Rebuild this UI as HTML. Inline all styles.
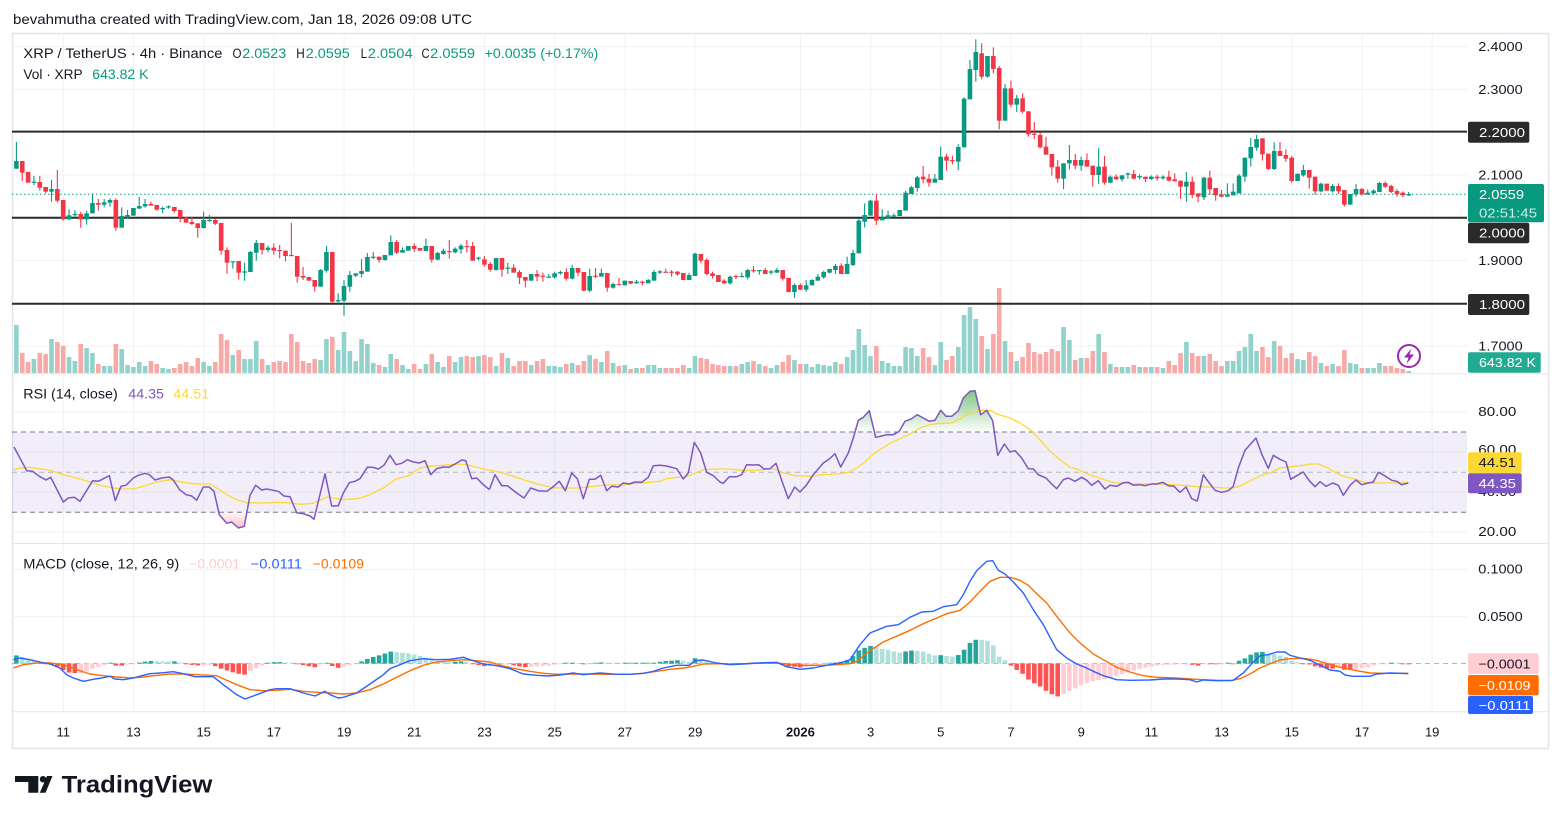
<!DOCTYPE html>
<html><head><meta charset="utf-8">
<style>
html,body{margin:0;padding:0;background:#fff;width:1562px;height:824px;overflow:hidden;}
svg{display:block;}
text{font-family:"Liberation Sans",Arial,sans-serif;}
</style></head>
<body>
<svg id="s" width="1562" height="824" viewBox="0 0 1562 824" xmlns="http://www.w3.org/2000/svg">
<defs>
 <clipPath id="cp"><rect x="12" y="34" width="1455" height="339"/></clipPath>
 <clipPath id="cr"><rect x="12" y="375" width="1455" height="168"/></clipPath>
 <clipPath id="cm"><rect x="12" y="544" width="1455" height="167"/></clipPath>
 <clipPath id="cob"><rect x="12" y="375" width="1455" height="57"/></clipPath>
 <clipPath id="cos"><rect x="12" y="512.3" width="1455" height="31"/></clipPath>
 <linearGradient id="gob" x1="0" y1="388" x2="0" y2="432" gradientUnits="userSpaceOnUse"><stop offset="0" stop-color="#4caf50" stop-opacity="0.75"/><stop offset="1" stop-color="#4caf50" stop-opacity="0.02"/></linearGradient>
 <linearGradient id="gos" x1="0" y1="512" x2="0" y2="530" gradientUnits="userSpaceOnUse"><stop offset="0" stop-color="#f23645" stop-opacity="0.03"/><stop offset="1" stop-color="#f23645" stop-opacity="0.35"/></linearGradient>
</defs>
<rect width="1562" height="824" fill="#fff"/>
<text x="13" y="24" font-size="14" fill="#131722" textLength="459" lengthAdjust="spacingAndGlyphs">bevahmutha created with TradingView.com, Jan 18, 2026 09:08 UTC</text>

<rect x="12.5" y="33.5" width="1536" height="715" fill="#fff" stroke="#e3e5ea" stroke-width="1.5"/>

<g stroke="#f0f2f5" stroke-width="1">
 <line x1="63.3" y1="34" x2="63.3" y2="711"/><line x1="133.5" y1="34" x2="133.5" y2="711"/>
 <line x1="203.7" y1="34" x2="203.7" y2="711"/><line x1="273.9" y1="34" x2="273.9" y2="711"/>
 <line x1="344.1" y1="34" x2="344.1" y2="711"/><line x1="414.3" y1="34" x2="414.3" y2="711"/>
 <line x1="484.5" y1="34" x2="484.5" y2="711"/><line x1="554.7" y1="34" x2="554.7" y2="711"/>
 <line x1="624.9" y1="34" x2="624.9" y2="711"/><line x1="695.1" y1="34" x2="695.1" y2="711"/>
 <line x1="800.4" y1="34" x2="800.4" y2="711"/><line x1="870.6" y1="34" x2="870.6" y2="711"/>
 <line x1="940.8" y1="34" x2="940.8" y2="711"/><line x1="1011" y1="34" x2="1011" y2="711"/>
 <line x1="1081.2" y1="34" x2="1081.2" y2="711"/><line x1="1151.4" y1="34" x2="1151.4" y2="711"/>
 <line x1="1221.6" y1="34" x2="1221.6" y2="711"/><line x1="1291.8" y1="34" x2="1291.8" y2="711"/>
 <line x1="1362" y1="34" x2="1362" y2="711"/><line x1="1432.2" y1="34" x2="1432.2" y2="711"/>
 <line x1="12" y1="46.5" x2="1467" y2="46.5"/><line x1="12" y1="89.5" x2="1467" y2="89.5"/>
 <line x1="12" y1="175" x2="1467" y2="175"/><line x1="12" y1="260.5" x2="1467" y2="260.5"/>
 <line x1="12" y1="346" x2="1467" y2="346"/>
 <line x1="12" y1="412" x2="1467" y2="412"/><line x1="12" y1="452" x2="1467" y2="452"/>
 <line x1="12" y1="492" x2="1467" y2="492"/><line x1="12" y1="532" x2="1467" y2="532"/>
 <line x1="12" y1="569.5" x2="1467" y2="569.5"/><line x1="12" y1="616.5" x2="1467" y2="616.5"/>
</g>
<g stroke="#e3e5ea" stroke-width="1">
 <line x1="12" y1="373.8" x2="1548" y2="373.8"/>
 <line x1="12" y1="543.5" x2="1548" y2="543.5"/>
 <line x1="12" y1="711.7" x2="1548" y2="711.7"/>
</g>

<rect x="12" y="432" width="1455" height="80.3" fill="#7e57c2" fill-opacity="0.1"/>
<g stroke-dasharray="5,4" stroke-width="1">
 <line x1="12" y1="432" x2="1467" y2="432" stroke="#787b86"/>
 <line x1="12" y1="472.3" x2="1467" y2="472.3" stroke="#b2b5be"/>
 <line x1="12" y1="512.3" x2="1467" y2="512.3" stroke="#787b86"/>
</g>
<line x1="12" y1="663.5" x2="1467" y2="663.5" stroke="#b2b5be" stroke-dasharray="5,4"/>

<g id="vol" clip-path="url(#cp)"></g>
<g stroke="#2a2a2a" stroke-width="2">
 <line x1="12" y1="131.6" x2="1467" y2="131.6"/>
 <line x1="12" y1="217.7" x2="1467" y2="217.7"/>
 <line x1="12" y1="303.7" x2="1467" y2="303.7"/>
</g>
<line x1="12" y1="194.2" x2="1467" y2="194.2" stroke="#089981" stroke-width="1" stroke-dasharray="1.5,2.5"/>
<g id="cdl" clip-path="url(#cp)"></g>

<g id="rsi" clip-path="url(#cr)"></g>
<g id="macd" clip-path="url(#cm)"></g>

<circle cx="1409" cy="356" r="11" fill="#fff" stroke="#9c27b0" stroke-width="2"/>
<polygon points="1411.5,348.5 1404,357.5 1408.5,357.5 1406.5,364 1414,354.5 1409.5,354.5" fill="#9c27b0"/>

<g font-size="13.5">
 <text x="23.4" y="58" fill="#131722" textLength="199" lengthAdjust="spacingAndGlyphs">XRP / TetherUS · 4h · Binance</text>
 <text x="232.5" y="58" fill="#131722" textLength="9" lengthAdjust="spacingAndGlyphs">O</text>
 <text x="242.3" y="58" fill="#089981" textLength="44" lengthAdjust="spacingAndGlyphs">2.0523</text>
 <text x="296.3" y="58" fill="#131722" textLength="8.5" lengthAdjust="spacingAndGlyphs">H</text>
 <text x="305.8" y="58" fill="#089981" textLength="44" lengthAdjust="spacingAndGlyphs">2.0595</text>
 <text x="360.6" y="58" fill="#131722" textLength="6.5" lengthAdjust="spacingAndGlyphs">L</text>
 <text x="367.8" y="58" fill="#089981" textLength="44.8" lengthAdjust="spacingAndGlyphs">2.0504</text>
 <text x="421.5" y="58" fill="#131722" textLength="8" lengthAdjust="spacingAndGlyphs">C</text>
 <text x="430.2" y="58" fill="#089981" textLength="44.8" lengthAdjust="spacingAndGlyphs">2.0559</text>
 <text x="484.6" y="58" fill="#089981" textLength="113.6" lengthAdjust="spacingAndGlyphs">+0.0035 (+0.17%)</text>
 <text x="23.4" y="79" fill="#131722" textLength="59.3" lengthAdjust="spacingAndGlyphs">Vol · XRP</text>
 <text x="92.3" y="79" fill="#089981" textLength="56.2" lengthAdjust="spacingAndGlyphs">643.82 K</text>
 <text x="23.3" y="398.5" fill="#131722" textLength="94.4" lengthAdjust="spacingAndGlyphs">RSI (14, close)</text>
 <text x="128.3" y="398.5" fill="#7e57c2" textLength="35.7" lengthAdjust="spacingAndGlyphs">44.35</text>
 <text x="173.3" y="398.5" fill="#fdd835" textLength="36" lengthAdjust="spacingAndGlyphs">44.51</text>
 <text x="23.3" y="568.5" fill="#131722" textLength="156" lengthAdjust="spacingAndGlyphs">MACD (close, 12, 26, 9)</text>
 <text x="189.3" y="568.5" fill="#ffcdd2" textLength="50.7" lengthAdjust="spacingAndGlyphs">−0.0001</text>
 <text x="250.7" y="568.5" fill="#2962ff" textLength="51.3" lengthAdjust="spacingAndGlyphs">−0.0111</text>
 <text x="312.7" y="568.5" fill="#ff6d00" textLength="51.3" lengthAdjust="spacingAndGlyphs">−0.0109</text>
</g>

<g font-size="13" fill="#131722">
 <text x="1478.3" y="51" textLength="44.4" lengthAdjust="spacingAndGlyphs">2.4000</text>
 <text x="1478.3" y="94" textLength="44.4" lengthAdjust="spacingAndGlyphs">2.3000</text>
 <text x="1478.3" y="179.5" textLength="44.4" lengthAdjust="spacingAndGlyphs">2.1000</text>
 <text x="1478.3" y="265" textLength="44.4" lengthAdjust="spacingAndGlyphs">1.9000</text>
 <text x="1478.3" y="350.5" textLength="44.4" lengthAdjust="spacingAndGlyphs">1.7000</text>
 <text x="1478.3" y="416" textLength="38" lengthAdjust="spacingAndGlyphs">80.00</text>
 <text x="1478.3" y="454" textLength="38" lengthAdjust="spacingAndGlyphs">60.00</text>
 <text x="1478.3" y="496" textLength="38" lengthAdjust="spacingAndGlyphs">40.00</text>
 <text x="1478.3" y="536" textLength="38" lengthAdjust="spacingAndGlyphs">20.00</text>
 <text x="1478.3" y="573.5" textLength="44.4" lengthAdjust="spacingAndGlyphs">0.1000</text>
 <text x="1478.3" y="621" textLength="44.4" lengthAdjust="spacingAndGlyphs">0.0500</text>
</g>
<g font-size="13">
 <rect x="1468" y="121.7" width="61.3" height="21" rx="2" fill="#2a2a2a"/>
 <text x="1479" y="136.8" fill="#fff" textLength="46" lengthAdjust="spacingAndGlyphs">2.2000</text>
 <rect x="1468" y="222.7" width="61.3" height="20.6" rx="2" fill="#2a2a2a"/>
 <text x="1479" y="237.6" fill="#fff" textLength="46" lengthAdjust="spacingAndGlyphs">2.0000</text>
 <rect x="1468" y="294" width="61.3" height="21" rx="2" fill="#2a2a2a"/>
 <text x="1479" y="309" fill="#fff" textLength="46" lengthAdjust="spacingAndGlyphs">1.8000</text>
 <rect x="1468" y="184" width="76" height="38.3" rx="2" fill="#089981"/>
 <text x="1479" y="198.8" fill="#fff" textLength="45" lengthAdjust="spacingAndGlyphs">2.0559</text>
 <text x="1479" y="217.3" fill="#fff" fill-opacity="0.82" textLength="58" lengthAdjust="spacingAndGlyphs">02:51:45</text>
 <rect x="1468" y="352.3" width="72.7" height="20.4" rx="2" fill="#22ab94"/>
 <text x="1479" y="367" fill="#fff" textLength="57" lengthAdjust="spacingAndGlyphs">643.82 K</text>
 <rect x="1468" y="452.3" width="53.7" height="20.7" rx="2" fill="#fdd835"/>
 <text x="1478.5" y="467.2" fill="#131722" textLength="37.5" lengthAdjust="spacingAndGlyphs">44.51</text>
 <rect x="1468" y="473.3" width="53.7" height="20" rx="2" fill="#7e57c2"/>
 <text x="1478.5" y="488" fill="#fff" textLength="37.5" lengthAdjust="spacingAndGlyphs">44.35</text>
 <rect x="1468" y="653.3" width="70.7" height="20.7" rx="2" fill="#ffcdd2"/>
 <text x="1478.5" y="668.3" fill="#131722" textLength="52" lengthAdjust="spacingAndGlyphs">−0.0001</text>
 <rect x="1468" y="675" width="70.7" height="20.4" rx="2" fill="#ff6d00"/>
 <text x="1478.5" y="689.8" fill="#fff" textLength="52" lengthAdjust="spacingAndGlyphs">−0.0109</text>
 <rect x="1468" y="696" width="65" height="18" rx="2" fill="#2962ff"/>
 <text x="1478.5" y="710" fill="#fff" textLength="52" lengthAdjust="spacingAndGlyphs">−0.0111</text>
</g>

<g font-size="13" fill="#131722" text-anchor="middle">
 <text x="63.3" y="736.5">11</text><text x="133.5" y="736.5">13</text><text x="203.7" y="736.5">15</text>
 <text x="273.9" y="736.5">17</text><text x="344.1" y="736.5">19</text><text x="414.3" y="736.5">21</text>
 <text x="484.5" y="736.5">23</text><text x="554.7" y="736.5">25</text><text x="624.9" y="736.5">27</text>
 <text x="695.1" y="736.5">29</text><text x="800.4" y="736.5" font-weight="bold">2026</text>
 <text x="870.6" y="736.5">3</text><text x="940.8" y="736.5">5</text><text x="1011" y="736.5">7</text>
 <text x="1081.2" y="736.5">9</text><text x="1151.4" y="736.5">11</text><text x="1221.6" y="736.5">13</text>
 <text x="1291.8" y="736.5">15</text><text x="1362" y="736.5">17</text><text x="1432.2" y="736.5">19</text>
</g>

<g fill="#131722">
 <polygon points="15,776 38.3,776 38.3,792.7 28.3,792.7 28.3,782 15,782"/>
 <circle cx="43" cy="779.2" r="3.2"/>
 <polygon points="47,776 52.5,776 45.5,792.7 39.8,792.7"/>
 <text x="61.7" y="792.7" font-size="24" font-weight="bold" textLength="150.6" lengthAdjust="spacingAndGlyphs">TradingView</text>
</g>
</svg>
<script>
(function(){
var NS='http://www.w3.org/2000/svg';
function el(tag,attrs,parent){var e=document.createElementNS(NS,tag);for(var k in attrs)e.setAttribute(k,attrs[k]);parent.appendChild(e);return e;}
var A=[[1,93,116,36,116],[0,93,128,93,153],[0,126,158,126,158],[1,155,158,138,165],[0,156,173,138,182],[0,171,185,171,190],[1,177,185,150,215],[0,177,212,120,218],[0,210,268,210,272],[1,256,268,238,270],
[1,252,255,241,262],[0,252,268,245,293],[1,250,268,243,284],[1,219,250,190,250],[0,219,224,207,242],[1,217,224,207,232],[1,210,218,205,230],[0,210,293,205,302],[1,258,293,232,293],[1,255,263,240,265],
[1,234,257,234,257],[1,228,236,201,236],[1,222,229,207,233],[0,222,227,215,227],[0,225,239,225,242],[1,234,238,230,250],[1,229,232,226,236],[0,231,243,231,248],[0,240,263,240,277],[0,262,278,262,278],
[0,276,282,260,285],[0,280,294,280,323],[1,270,294,245,296],[1,270,272,255,275],[0,270,281,266,285],[0,279,362,279,374],[0,360,398,352,431],[1,394,396,394,416],[0,393,428,393,449],[1,424,428,398,452],
[1,366,426,363,426],[1,339,368,330,392],[0,339,360,339,374],[1,353,360,347,367],[0,353,362,340,374],[0,360,363,345,385],[0,362,378,362,394],[0,375,378,279,378],[0,378,440,378,458],[0,438,443,411,450],
[0,441,452,441,452],[0,450,470,450,485],[1,420,470,417,470],[1,366,422,348,428],[0,366,515,366,518],[1,510,514,490,520],[1,468,512,450,557],[1,435,470,423,485],[1,430,437,430,442],[1,423,432,388,442],
[1,381,425,369,425],[1,380,383,366,388],[0,380,390,380,398],[1,375,390,375,392],[1,336,376,316,376],[0,336,368,330,372],[1,360,368,352,368],[1,348,362,348,362],[0,348,357,340,366],[0,354,362,354,362],
[1,348,363,326,363],[0,348,389,348,398],[1,369,389,366,391],[1,362,372,356,374],[0,363,366,330,386],[1,356,367,352,370],[1,347,358,342,371],[0,348,350,330,368]];
var B=[[0,348,392,336,392],[1,383,386,380,392],[0,388,404,378,410],[0,402,419,396,425],[1,384,420,384,422],[0,384,419,384,440],[1,413,415,398,432],[0,413,428,403,428],[0,426,443,420,462],[0,441,452,441,472],
[1,432,452,432,452],[0,432,440,420,453],[0,437,440,428,455],[1,440,442,432,442],[1,430,442,425,446],[1,426,430,422,434],[0,426,446,415,452],[1,414,446,405,448],[0,414,428,414,438],[0,426,482,426,484],
[1,438,482,416,487],[0,437,440,414,445],[1,429,440,416,440],[0,429,473,429,485],[1,462,473,458,476],[0,462,464,444,464],[1,452,466,452,466],[0,453,461,453,461],[1,455,460,450,461],[0,455,458,452,466],
[1,450,460,447,460],[1,426,452,420,452],[1,424,428,420,432],[0,425,427,416,428],[0,425,428,420,440],[0,425,433,423,437],[0,429,450,429,450],[1,435,450,428,450],[1,371,438,368,438],[0,372,392,372,400],
[0,390,432,385,436],[0,430,438,425,446],[0,435,456,435,456],[0,452,460,448,462],[1,440,460,437,464],[0,438,441,434,447],[1,438,441,428,441],[1,420,442,417,448],[0,420,422,408,428],[1,420,422,420,434],
[0,420,432,414,432],[1,424,428,420,434],[1,420,428,414,428],[0,420,446,420,452],[0,444,486,444,486],[1,465,486,460,503],[0,465,479,460,480],[1,466,479,450,486],[1,450,466,448,466],[1,440,452,432,452],
[1,426,442,422,446],[1,417,428,417,430],[1,408,420,402,432],[0,407,432,400,432],[1,402,432,380,432],[1,369,405,360,408],[1,272,370,265,370],[1,255,275,220,292],[1,212,257,210,257],[0,212,272,192,285],
[1,262,271,238,271],[1,256,266,242,266],[1,256,258,250,262],[1,240,258,240,258],[1,188,242,182,242],[1,172,192,168,192],[1,142,174,138,185]];
var C=[[0,440,448,408,460],[0,446,458,432,470],[1,446,458,432,458],[1,380,450,350,450],[0,380,392,372,422],[0,390,392,377,403],[1,351,395,343,420],[1,206,352,202,352],[1,117,208,90,208],[1,66,120,28,155],
[0,70,140,40,148],[1,78,140,78,143],[0,78,117,52,130],[0,114,272,108,298],[1,175,272,162,272],[0,175,224,152,232],[1,205,224,195,246],[0,205,245,190,250],[0,244,313,244,320],[0,311,314,276,327],
[0,315,352,308,355],[0,350,374,320,374],[0,372,412,372,437],[0,410,446,390,458],[1,400,446,400,478],[1,390,400,345,418],[0,390,407,372,418],[1,390,407,380,422],[0,390,410,370,410],[0,407,435,407,470],
[1,410,435,354,462],[0,410,458,378,464],[1,440,458,436,460],[0,440,448,433,450],[1,436,448,436,455],[1,430,434,428,446],[0,432,446,420,449],[1,438,442,433,448],[0,440,447,440,456],[1,440,447,436,450],
[0,440,445,434,452],[1,440,445,436,449],[0,440,452,422,454],[0,448,454,430,454],[0,452,470,452,507],[1,455,470,426,515],[0,455,495,440,505],[0,490,500,490,517],[1,443,502,440,510],[0,443,478,422,494],
[0,474,496,474,512],[0,493,500,480,502],[1,494,500,460,500],[1,485,496,460,496],[1,437,490,432,490],[1,383,440,383,455],[1,351,385,324,410],[1,327,353,315,362],[0,325,373,325,392],[0,371,417,371,420],
[1,363,417,337,420],[0,363,378,336,378],[0,375,386,358,395],[0,383,453,378,458],[1,431,453,431,453],[1,420,436,405,440],[0,420,443,420,476],[0,440,484,440,494],[1,461,484,458,487],[0,461,482,461,482],
[1,468,484,462,488],[0,468,484,460,492],[0,480,524,480,530],[1,492,524,492,524],[1,477,493,462,500],[0,477,493,474,496],[1,488,494,478,494],[1,482,490,478,494],[1,459,486,456,486],[0,459,470,454,474],
[0,468,486,464,490],[0,483,493,478,500],[0,488,496,484,502],[1,492,496,486,498]];
var VA=[585,669,696,687,669,672,627,636,648,681,693,642,654,669,702,708,708,642,657,705,711,696,708,693,702,714,717,714,702,696,708,684,696,708,696,612,630,675,660,687,687,633,687,705,696,693,696,612,636,693,699,687,690,627,621,660,606,663,693,627,642,699,705,711,672,687,705,717,702,717,702,672,696,711,678,696,681,678];
var VB=[681,678,675,681,708,669,684,708,693,693,705,693,687,708,708,711,702,699,705,693,675,687,696,663,699,708,705,717,714,714,705,705,714,714,714,714,705,714,678,684,687,702,705,708,708,708,702,696,693,702,708,714,705,696,675,690,702,702,711,702,705,708,696,702,681,660,597,645,678,648,693,699,708,708,651,654,678];
var VC=[954,981,1005,936,990,978,951,855,831,867,918,957,912,774,933,966,993,981,939,966,972,966,957,963,891,930,990,984,984,963,912,966,1002,1011,1011,1011,1005,1011,1011,1011,1011,1014,993,1005,969,936,969,978,978,972,993,1008,993,993,963,951,912,963,951,981,933,948,984,969,987,990,966,978,999,1008,1002,1008,960,999,1002,1014,1014,1014,999,1008,1008,1014,1017,1023];
var cd=[],vols=[];
function addC(arr,y0){arr.forEach(function(c){cd.push([c[0],y0+c[1]/3,y0+c[2]/3,y0+c[3]/3,y0+c[4]/3]);});}
addC(A,130);addC(B,130);addC(C,30);
VA.forEach(function(v){vols.push(130+v/3);});VB.forEach(function(v){vols.push(130+v/3);});VC.forEach(function(v){vols.push(30+v/3);});
function X(i){return 16.4+5.85*i;}
var gV=document.getElementById('vol'),gC=document.getElementById('cdl');
for(var i=0;i<cd.length;i++){
 var c=cd[i],x=X(i),col=c[0]?'#089981':'#f23645',vc=c[0]?'#92d2cc':'#f7a9a7';
 if(i<vols.length){el('rect',{x:(x-2.3).toFixed(2),y:vols[i].toFixed(2),width:4.6,height:(373.5-vols[i]).toFixed(2),fill:vc},gV);}
 var bt=Math.min(c[1],c[2]),bb=Math.max(c[1],c[2]);
 var wt=Math.min(c[3],bt),wb=Math.max(c[4],bb);
 el('rect',{x:(x-0.55).toFixed(2),y:wt.toFixed(2),width:1.1,height:Math.max(wb-wt,1).toFixed(2),fill:col},gC);
 el('rect',{x:(x-2.3).toFixed(2),y:bt.toFixed(2),width:4.6,height:Math.max(bb-bt,1.2).toFixed(2),fill:col},gC);
}
function conv(a,x0,y0){return a.map(function(p){return [x0+p[0]/3,y0+p[1]/3];});}
function merge(a7,a8,a9){var r=[];conv(a7,10,378).forEach(function(p){if(p[0]<490)r.push(p);});conv(a8,490,378).forEach(function(p){if(p[0]<970)r.push(p);});conv(a9,970,378).forEach(function(p){r.push(p);});return r;}
function ps(p){return p.map(function(q){return q[0].toFixed(1)+','+q[1].toFixed(1);}).join(' ');}
var R7=[[12,207],[50,278],[68,280],[88,295],[108,306],[122,298],[160,372],[175,360],[193,358],[210,370],[248,308],[265,310],[298,293],[316,368],[333,325],[348,322],[370,300],[385,292],[405,286],[418,290],[435,306],[455,300],[478,297],[490,306],[508,334],[528,350],[545,354],[560,367],[580,327],[597,327],[612,340],[628,410],[650,436],[665,432],[685,450],[703,445],[720,352],[737,322],[755,336],[770,333],[790,337],[805,340],[822,354],[840,356],[860,404],[880,407],[900,414],[912,424],[945,287],[965,384],[985,383],[1000,345],[1018,314],[1035,310],[1050,302],[1072,268],[1088,268],[1105,273],[1122,262],[1140,232],[1158,260],[1175,256],[1192,245],[1210,252],[1228,255],[1245,248],[1262,290],[1280,272],[1300,267],[1317,268],[1335,258],[1355,246],[1367,248],[1385,302],[1400,300],[1420,320],[1437,334],[1455,290],[1470,316]];
var R8=[[0,330],[15,290],[35,323],[52,323],[80,345],[102,360],[122,330],[145,338],[170,340],[185,330],[208,310],[226,338],[245,285],[262,302],[280,362],[298,304],[315,304],[332,292],[350,338],[365,325],[385,327],[400,315],[418,318],[435,312],[455,313],[475,298],[490,263],[510,262],[530,264],[560,272],[580,303],[595,285],[613,193],[632,225],[650,283],[670,293],[690,312],[700,316],[718,296],[740,296],[755,290],[770,260],[790,261],[806,260],[822,273],[840,272],[858,256],[876,310],[895,362],[914,327],[930,342],[950,320],[970,290],[1000,255],[1018,243],[1035,227],[1052,267],[1075,225],[1090,180],[1105,127],[1120,118],[1138,98],[1157,178],[1175,174],[1190,170],[1210,170],[1228,160],[1245,130],[1265,122],[1282,110],[1300,120],[1318,130],[1335,127],[1352,97],[1368,115],[1385,115],[1405,98],[1420,60],[1440,45],[1457,38]];
var R9=[[0,40],[15,38],[32,110],[50,97],[68,128],[83,232],[103,198],[120,222],[135,218],[155,240],[175,272],[190,273],[205,290],[228,300],[245,318],[260,332],[280,305],[295,300],[315,310],[335,298],[350,307],[365,322],[385,308],[405,333],[420,322],[440,325],[460,314],[475,313],[490,322],[510,320],[525,323],[545,318],[560,318],[578,313],[595,323],[612,325],[630,343],[648,327],[665,362],[682,369],[700,290],[718,315],[735,337],[755,343],[775,338],[790,325],[805,270],[825,217],[858,180],[875,228],[895,271],[910,232],[930,244],[948,252],[962,304],[980,293],[1000,282],[1018,308],[1035,326],[1050,311],[1068,325],[1088,315],[1105,322],[1120,352],[1140,322],[1158,306],[1175,320],[1195,315],[1210,312],[1225,283],[1245,294],[1265,307],[1280,310],[1295,320],[1315,315]];
var Y7=[[10,276],[30,270],[60,268],[100,274],[130,280],[160,290],[200,300],[240,312],[270,322],[310,330],[340,333],[370,333],[400,325],[440,312],[480,305],[520,313],[560,318],[600,318],[620,330],[650,350],[680,365],[710,374],[760,375],[800,373],[840,375],[870,379],[910,376],[930,367],[950,357],[980,362],[1000,365],[1040,362],[1080,350],[1120,330],[1160,302],[1195,293],[1230,270],[1260,265],[1300,262],[1340,258],[1370,260],[1400,268],[1430,275],[1470,282]];
var Y8=[[0,276],[30,283],[70,295],[110,308],[150,320],[190,329],[230,330],[270,330],[310,325],[350,321],[400,320],[440,316],[480,313],[510,310],[530,302],[560,298],[585,298],[610,288],[640,275],[680,273],[720,273],[760,278],[800,277],[840,272],[860,275],[880,285],[920,293],[960,295],[1000,290],[1040,288],[1075,283],[1100,270],[1125,252],[1145,232],[1170,215],[1200,196],[1230,182],[1260,168],[1290,150],[1320,140],[1350,136],[1385,135],[1410,122],[1440,108],[1470,100]];
var Y9=[[0,105],[30,97],[65,98],[80,108],[120,120],[150,135],[180,155],[210,185],[240,220],[270,245],[300,268],[320,273],[350,287],[380,297],[410,308],[440,315],[480,317],[520,318],[560,318],[600,320],[640,322],[680,326],[720,327],[760,330],[790,330],[820,320],[850,303],[880,290],[900,285],[930,270],[970,265],[1000,262],[1020,258],[1045,258],[1070,268],[1095,283],[1120,295],[1150,302],[1180,312],[1210,315],[1250,315],[1290,315],[1315,314]];
var M7=[[10,845],[30,840],[60,845],[90,852],[120,858],[150,870],[170,890],[190,900],[220,910],[250,904],[275,900],[300,895],[315,903],[340,905],[370,900],[400,892],[420,887],[460,884],[490,881],[520,887],[555,896],[610,896],[640,920],[680,950],[705,963],[740,950],[780,935],[800,932],[840,932],[880,945],[915,954],[945,940],[960,950],[985,960],[1000,958],[1040,945],[1080,918],[1120,890],[1140,872],[1170,860],[1200,848],[1240,842],[1280,845],[1320,844],[1360,838],[1380,845],[1420,858],[1470,867]];
var S7=[[10,870],[40,860],[80,855],[120,855],[160,860],[200,875],[240,888],[280,893],[320,897],[360,900],[400,897],[440,892],[480,888],[520,888],[560,890],[600,892],[620,893],[650,907],[680,920],[720,935],[760,938],[800,937],[840,934],[880,940],[920,943],[960,945],[1000,948],[1040,945],[1080,935],[1120,918],[1160,898],[1200,878],[1240,862],[1280,852],[1320,848],[1360,845],[1400,848],[1440,853],[1470,856]];
var M8=[[0,860],[30,865],[60,872],[100,888],[140,892],[175,894],[210,891],[250,885],[280,890],[330,885],[380,889],[420,889],[460,886],[490,880],[520,870],[560,862],[598,862],[615,848],[640,846],[680,855],[720,860],[760,858],[800,855],[860,853],[890,866],[930,874],[970,870],[1010,862],[1050,855],[1080,845],[1110,800],[1140,765],[1190,745],[1225,740],[1260,718],[1295,702],[1330,700],[1360,686],[1400,680],[1420,650],[1450,590],[1470,568]];
var S8=[[0,852],[40,864],[80,873],[120,880],[160,886],[200,889],[240,888],[300,888],[360,889],[420,889],[460,886],[500,880],[540,874],[580,870],[610,865],[640,858],[680,857],[720,858],[760,857],[800,856],[860,855],[890,858],[920,862],[960,862],[1000,862],[1040,860],[1080,857],[1100,850],[1140,818],[1180,792],[1230,770],[1260,757],[1300,737],[1340,720],[1370,707],[1410,697],[1440,670],[1470,636]];
var M9=[[0,610],[20,578],[50,550],[68,548],[85,577],[105,588],[130,612],[160,645],[190,695],[220,740],[260,815],[290,840],[320,858],[345,868],[370,880],[400,893],[440,905],[480,907],[540,906],[580,903],[620,903],[660,905],[680,912],[700,906],[740,908],[790,907],[820,885],[845,857],[870,833],[895,830],[920,822],[945,822],[960,832],[990,840],[1020,847],[1050,862],[1080,876],[1110,880],[1125,891],[1150,895],[1200,895],[1220,888],[1260,885],[1290,886],[1315,887]];
var S9=[[0,672],[30,640],[60,610],[90,598],[120,598],[150,607],[175,622],[200,647],[230,675],[260,715],[300,765],[330,795],[370,828],[400,845],[440,868],[480,882],[520,893],[560,898],[620,900],[660,903],[700,905],[740,907],[780,908],[810,902],[840,888],[870,870],[900,857],[930,846],[960,842],[1000,841],[1040,847],[1080,860],[1120,870],[1160,878],[1200,885],[1240,886],[1280,886],[1315,886]];
var rsi=merge(R7,R8,R9),ma=merge(Y7,Y8,Y9),mac=merge(M7,M8,M9),sig=merge(S7,S8,S9);
var gR=document.getElementById('rsi'),gM=document.getElementById('macd');
var f=rsi[0][0],l=rsi[rsi.length-1][0];
var ob=el('g',{'clip-path':'url(#cob)'},gR);
el('polygon',{points:ps(rsi)+' '+l.toFixed(1)+',432 '+f.toFixed(1)+',432',fill:'url(#gob)'},ob);
var os=el('g',{'clip-path':'url(#cos)'},gR);
el('polygon',{points:ps(rsi)+' '+l.toFixed(1)+',512.3 '+f.toFixed(1)+',512.3',fill:'url(#gos)'},os);
el('polyline',{points:ps(ma),fill:'none',stroke:'#fdd835','stroke-width':1.3,'stroke-linejoin':'round'},gR);
el('polyline',{points:ps(rsi),fill:'none',stroke:'#7e57c2','stroke-width':1.5,'stroke-linejoin':'round'},gR);
function interp(p,x){for(var k=0;k<p.length-1;k++){if(x>=p[k][0]&&x<=p[k+1][0]){var d=p[k+1][0]-p[k][0];var t=d?(x-p[k][0])/d:0;return p[k][1]+t*(p[k+1][1]-p[k][1]);}}return x<p[0][0]?p[0][1]:p[p.length-1][1];}
var prev=0,Z=663.5;
for(var j=0;j<cd.length;j++){
 var xx=X(j),hv=interp(sig,xx)-interp(mac,xx);
 var colr;
 if(hv>=0){colr=(hv>=prev)?'#26a69a':'#b2dfdb';}else{colr=(hv<prev)?'#ff5252':'#ffcdd2';}
 prev=hv;
 var h=Math.max(Math.abs(hv),0.8);
 el('rect',{x:(xx-2.3).toFixed(2),y:(hv>=0?Z-h:Z).toFixed(2),width:4.6,height:h.toFixed(2),fill:colr},gM);
}
el('polyline',{points:ps(sig),fill:'none',stroke:'#ff6d00','stroke-width':1.4,'stroke-linejoin':'round'},gM);
el('polyline',{points:ps(mac),fill:'none',stroke:'#2962ff','stroke-width':1.4,'stroke-linejoin':'round'},gM);
})();
</script>
</body></html>
